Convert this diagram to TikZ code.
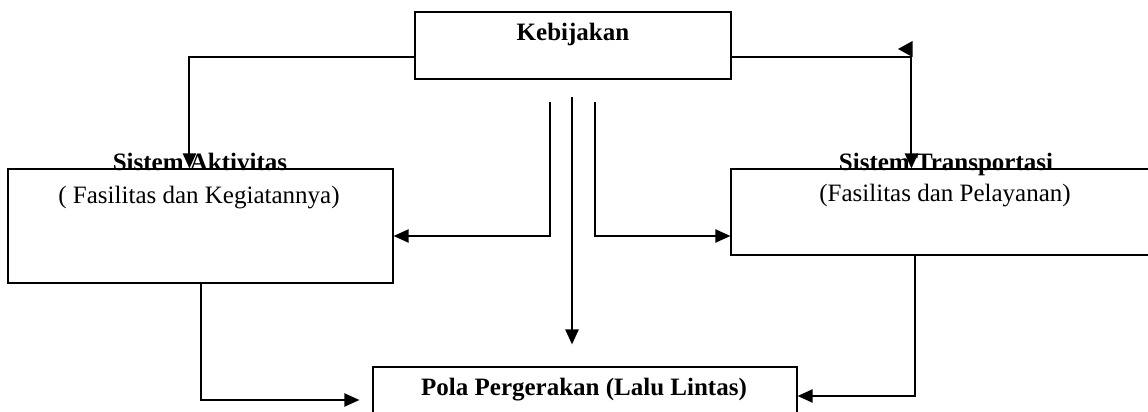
\documentclass[tikz,border=0pt]{standalone}
\usepackage{fontspec}
\setmainfont{Liberation Serif}
\usetikzlibrary{arrows.meta}
\begin{document}
\begin{tikzpicture}[x=1pt,y=1pt,
  box/.style={draw, line width=1.1pt, rectangle, inner sep=0pt},
  link/.style={line width=2pt},
  arr/.style={link, -{Triangle[length=15pt,width=13pt]}},
  ttl/.style={font=\fontsize{25}{28}\selectfont\bfseries, anchor=base, inner sep=0pt},
  sub/.style={font=\fontsize{25}{28}\selectfont, anchor=base, inner sep=0pt},
]
\useasboundingbox (0,0) rectangle (1148,412);
\clip (0,0) rectangle (1148,412);

% boxes
\node[box, minimum width=316pt, minimum height=67pt] (keb) at (573,366.5) {};
\node[box, minimum width=385pt, minimum height=114pt] (act) at (200.5,186) {};
\node[box, minimum width=421pt, minimum height=86pt] (trans) at (941.5,200) {};
\node[box, minimum width=424pt, minimum height=63pt] (pola) at (585,13.5) {};

% connectors
\draw[arr] ([yshift=-11.5pt]keb.west) -| ([xshift=182pt]act.north west);
\draw[arr] ([yshift=-11.5pt]keb.east) -| ([xshift=181pt]trans.north west);
\fill (912.5,371) -- (912.5,355) -- (898,363) -- cycle;

\coordinate (l1) at (550,310);
\coordinate (r1) at (595,310);
\coordinate (c1) at (572,315);
\draw[arr] (l1) |- ([yshift=-10pt]act.east);
\draw[arr] (r1) |- ([yshift=-24pt]trans.west);
\draw[arr, line width=2.5pt] (c1) -- ([yshift=22pt]pola.north -| c1);
\draw[arr] (act.south) |- ([xshift=-13pt,yshift=-1.5pt]pola.west);
\draw[arr] ([xshift=-26.5pt]trans.south) |- ([yshift=2.5pt]pola.east);

% labels
\node[ttl] (kebt) at (573,371) {Kebijakan};
\node[ttl] (actt) at (200,241) {Sistem Aktivitas};
\node[sub] (acts) at (199,208) {( Fasilitas dan Kegiatannya)};
\node[ttl] (transt) at (946,241) {Sistem Transportasi};
\node[sub] (transs) at (945,210) {(Fasilitas dan Pelayanan)};
\node[ttl] (polat) at (584,16) {Pola Pergerakan (Lalu Lintas)};
\end{tikzpicture}
\end{document}
